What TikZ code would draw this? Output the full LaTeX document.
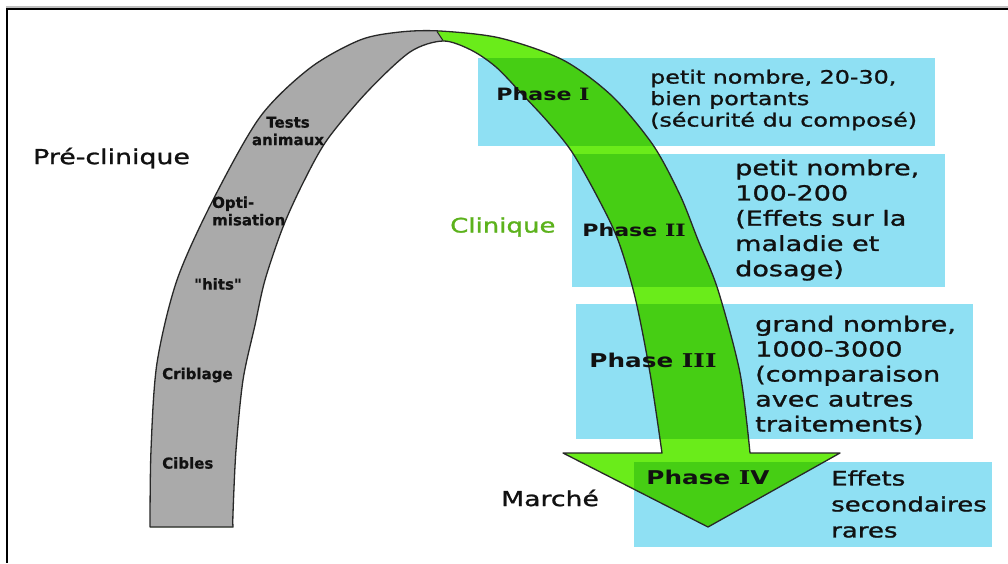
\documentclass[tikz,border=0pt]{standalone}
\usepackage{fontspec}
\setmainfont{DejaVu Sans}
\newfontfamily\bigf[FakeStretch=1.3,FakeBold=1.2]{DejaVu Sans}
\newfontfamily\phf[FakeStretch=1.3]{DejaVu Sans}
\newfontfamily\serf[FakeStretch=1.3]{DejaVu Serif}
\newfontfamily\bandf[Ligatures=TeXOff,FakeBold=0.6]{DejaVu Sans}
\newcommand{\RI}{{\serf\bfseries I}}
\definecolor{boxblue}{RGB}{143,224,243}
\definecolor{greenL}{RGB}{106,236,26}
\definecolor{greenD}{RGB}{70,206,20}
\definecolor{bandgrey}{RGB}{170,170,170}
\definecolor{clingreen}{RGB}{92,178,28}
\definecolor{outl}{RGB}{40,40,40}
\definecolor{txt}{RGB}{17,17,17}
\def\arrowpath{plot[smooth] coordinates {(150,527) (151,450) (157,363) (177,280) (213,200) (260,117) (310,68) (360,40) (400,32) (440,31) (500,38) (563,60) (612,96) (653,145) (680,195) (698,240) (718,290) (740,373) (750,453)} -- (840,453) -- (708,527) -- (563,453) -- plot[smooth] coordinates {(662,453) (650,373) (635,297) (618,240) (598,198) (572,152) (548,122) (522,94) (496,67) (471,50) (443,41) (410,52) (367,92) (327,140) (303,183) (283,227) (265,280) (255,325) (243,380) (236,450) (233,513) (233,527)} -- cycle}
\tikzset{
  bluebox/.style={fill=boxblue},
  bigtxt/.style={text=txt, inner sep=0pt, align=left, anchor=west},
  phaselbl/.style={text=txt, inner sep=0pt, font=\phf\bfseries},
  bandlbl/.style={text=txt, inner sep=0pt, font=\bandf\bfseries\fontsize{15}{17.5}\selectfont},
}
\begin{document}
\begin{tikzpicture}[x=1pt,y=-1pt]
\useasboundingbox (0,0) rectangle (1008,563);
\fill[white] (0,0) rectangle (1008,563);
% frame
\fill[gray!50] (5.5,6) rectangle (1008,7.5);
\fill[black] (5.5,7.5) rectangle (1008,9.5);
\fill[black] (5.5,7.5) rectangle (7.7,563);
% boxes
\fill[bluebox] (478,58) rectangle (935,146);
\fill[bluebox] (572,154) rectangle (945,287);
\fill[bluebox] (576,304) rectangle (973,439);
\fill[bluebox] (634,462) rectangle (992,547);
% arrow
\fill[greenL] \arrowpath;
\begin{scope}
  \clip (0,0) -- (436,0) -- (436,30) -- (444,42) -- (444,563) -- (0,563) -- cycle;
  \fill[bandgrey] \arrowpath;
\end{scope}
\begin{scope}
  \clip \arrowpath;
  \fill[greenD] (478,58) rectangle (935,146);
  \fill[greenD] (572,154) rectangle (945,287);
  \fill[greenD] (576,304) rectangle (973,439);
  \fill[greenD] (634,462) rectangle (992,547);
\end{scope}
\draw[outl, line width=1.3pt, line join=round] \arrowpath;
\draw[outl, line width=1.1pt] (437,31.5) -- (443,40.5);
% left labels
\node[bigtxt, font=\bigf\fontsize{20.6}{24}\selectfont] (pre) at (33,158) {Pré-clinique};
\node[bigtxt, text=clingreen, font=\bigf\fontsize{20}{24}\selectfont] (clin) at (450,227) {Clinique};
\node[bigtxt, font=\bigf\fontsize{20.5}{24}\selectfont] (marche) at (501,498) {Marché};
% band labels
\node[bandlbl, align=center] (tests) at (288,131) {Tests\\animaux};
\node[bandlbl, align=left, anchor=west] (opti) at (212,211) {Opti-\\misation};
\node[bandlbl] (hits) at (218,284) {"hits"};
\node[bandlbl, anchor=west] (crib) at (162,375) {Criblage};
\node[bandlbl, anchor=west] (cib) at (162,463) {Cibles};
% phase labels
\node[phaselbl, font=\phf\bfseries\fontsize{17}{20}\selectfont] (p1) at (543,94) {Phase \RI};
\node[phaselbl, font=\phf\bfseries\fontsize{17}{20}\selectfont] (p2) at (634,230) {Phase \RI\RI};
\node[phaselbl, font=\phf\bfseries\fontsize{19}{22}\selectfont] (p3) at (653,360) {Phase \RI\RI\RI};
\node[phaselbl, font=\phf\bfseries\fontsize{19}{22}\selectfont] (p4) at (708,477) {Phase \RI V};
% box texts
\node[bigtxt, font=\bigf\fontsize{18.3}{21.5}\selectfont] (t1) at (650,100) {petit nombre, 20-30,\\bien portants\\(sécurité du composé)};
\node[bigtxt, font=\bigf\fontsize{20.8}{25.25}\selectfont] (t2) at (735,220) {petit nombre,\\100-200\\(Effets sur la\\maladie et\\dosage)};
\node[bigtxt, font=\bigf\fontsize{20.8}{25}\selectfont] (t3) at (755,375) {grand nombre,\\1000-3000\\(comparaison\\avec autres\\traitements)};
\node[bigtxt, font=\bigf\fontsize{20}{26}\selectfont] (t4) at (831,504) {Effets\\secondaires\\rares};
\end{tikzpicture}
\end{document}
